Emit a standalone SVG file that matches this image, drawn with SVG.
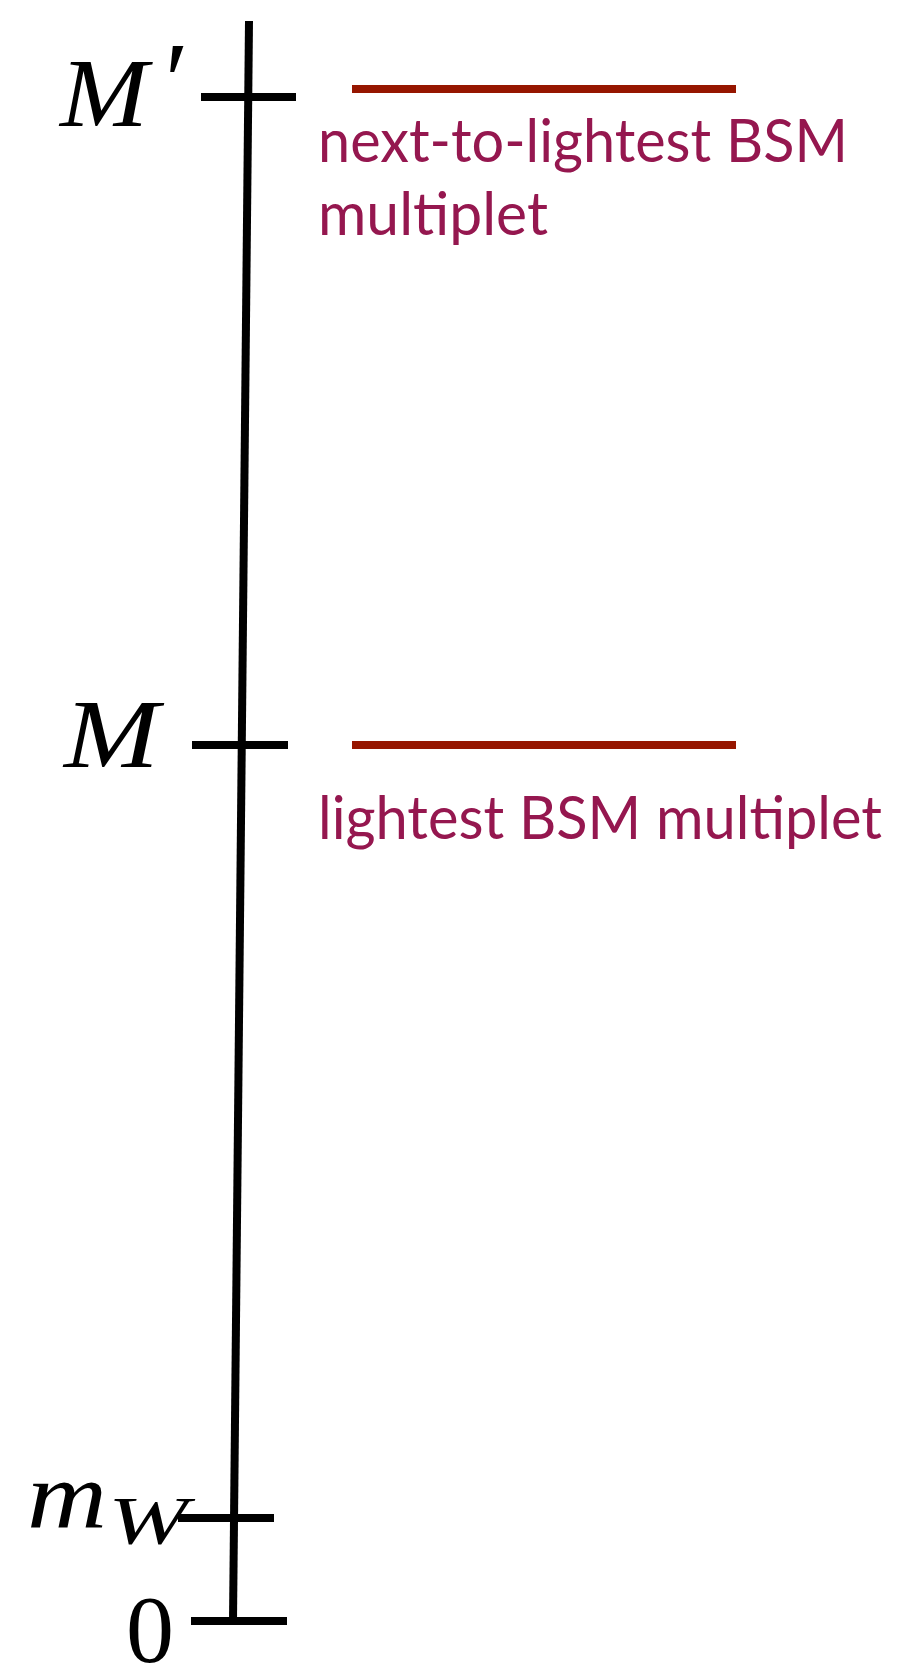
<svg xmlns="http://www.w3.org/2000/svg" width="914" height="1663" viewBox="0 0 914 1663">
<style>
.ax{stroke:#000;stroke-width:8;fill:none}
.lvl{stroke:#961600;stroke-width:8}
.math{font-family:"Liberation Serif",serif;font-style:italic;fill:#000}
.lbl{font-family:Lato,"Open Sans",sans-serif;font-size:60px;fill:#95174f}
</style>
<rect width="914" height="1663" fill="#fff"/>
<g id="axis">
<line class="ax" x1="249" y1="21" x2="233" y2="1621"/>
</g>
<g id="tick-Mprime">
<line class="ax" x1="201" y1="97" x2="296" y2="97"/>
<text class="math" x="60" y="126" font-size="98" textLength="88" lengthAdjust="spacingAndGlyphs">M</text>
<text class="math" x="158" y="118" font-size="110">′</text>
</g>
<g id="tick-M">
<line class="ax" x1="192" y1="745" x2="288" y2="745"/>
<text class="math" x="64" y="767" font-size="98" textLength="95" lengthAdjust="spacingAndGlyphs">M</text>
</g>
<g id="tick-mW">
<line class="ax" x1="178" y1="1518" x2="274" y2="1518"/>
<text class="math" x="27" y="1528" font-size="96" textLength="80" lengthAdjust="spacingAndGlyphs">m</text>
<text class="math" x="108" y="1543" font-size="68" textLength="80" lengthAdjust="spacingAndGlyphs">W</text>
</g>
<g id="tick-0">
<line class="ax" x1="191" y1="1621" x2="287" y2="1621"/>
<text font-family="Liberation Serif,serif" x="126" y="1662" font-size="96" fill="#000">0</text>
</g>
<g id="level-next">
<line class="lvl" x1="352" y1="89" x2="736" y2="89"/>
<text class="lbl" x="318" y="162" textLength="530" lengthAdjust="spacingAndGlyphs">next-to-lightest BSM</text>
<text class="lbl" x="318" y="235" textLength="230" lengthAdjust="spacingAndGlyphs">multiplet</text>
</g>
<g id="level-lightest">
<line class="lvl" x1="352" y1="745" x2="736" y2="745"/>
<text class="lbl" x="318" y="839" textLength="564" lengthAdjust="spacingAndGlyphs">lightest BSM multiplet</text>
</g>
</svg>
